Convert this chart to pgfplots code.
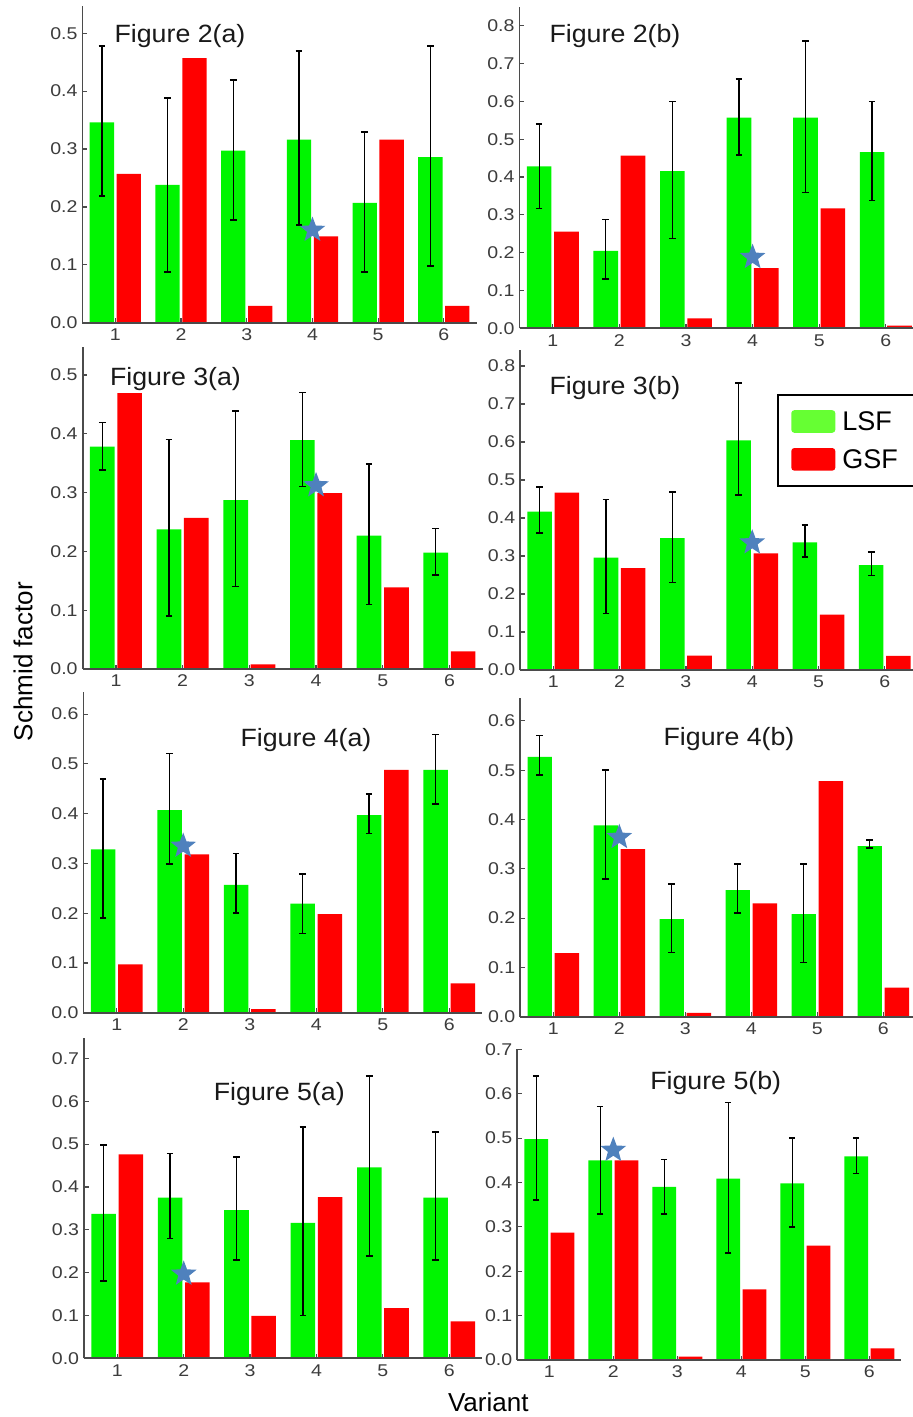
\documentclass[border=0pt]{standalone}
\usepackage{fontspec}
\setmainfont{Liberation Sans}
\newfontfamily\tickfont{Liberation Sans}[FakeStretch=1.15]
\newfontfamily\titlefont{Liberation Sans}[FakeStretch=1.07]
\usepackage{pgfplots}
\pgfplotsset{compat=1.18}
\definecolor{barg}{RGB}{0,245,0}
\definecolor{barr}{RGB}{255,0,0}
\definecolor{legg}{RGB}{102,255,51}
\definecolor{starblue}{RGB}{79,129,189}
\definecolor{axgray}{RGB}{75,75,75}
\definecolor{tickgray}{RGB}{60,60,60}
\pgfdeclareplotmark{fstar}{%
  \pgfpathmoveto{\pgfpointpolar{90}{\pgfplotmarksize}}%
  \pgfpathlineto{\pgfpointpolar{126}{0.42*\pgfplotmarksize}}%
  \pgfpathlineto{\pgfpointpolar{162}{\pgfplotmarksize}}%
  \pgfpathlineto{\pgfpointpolar{198}{0.42*\pgfplotmarksize}}%
  \pgfpathlineto{\pgfpointpolar{234}{\pgfplotmarksize}}%
  \pgfpathlineto{\pgfpointpolar{270}{0.42*\pgfplotmarksize}}%
  \pgfpathlineto{\pgfpointpolar{306}{\pgfplotmarksize}}%
  \pgfpathlineto{\pgfpointpolar{342}{0.42*\pgfplotmarksize}}%
  \pgfpathlineto{\pgfpointpolar{18}{\pgfplotmarksize}}%
  \pgfpathlineto{\pgfpointpolar{54}{0.42*\pgfplotmarksize}}%
  \pgfpathclose\pgfusepathqfill}
\pgfplotsset{
  panel/.style={
    scale only axis, anchor=south west,
    xmin=0.5, xmax=6.5, ymin=0,
    axis x line*=bottom, axis y line*=left,
    axis line style={axgray, line width=1.8pt},
    xtick={1,2,3,4,5,6},
    ytick={0,0.1,0.2,0.3,0.4,0.5,0.6,0.7,0.8},
    tick style={axgray, line width=1.2pt},
    major tick length=4.5pt,
    tick align=inside,
    /pgf/number format/assume math mode=true,
    ticklabel style={font=\tickfont\fontsize{17}{19}\selectfont, text=tickgray, inner sep=0pt, outer sep=0pt},
    yticklabel style={/pgf/number format/fixed, /pgf/number format/fixed zerofill, /pgf/number format/precision=1},
    xticklabel shift=6pt, yticklabel shift=5pt,
    axis on top, clip=false,
  },
  gbar/.style={ybar, bar width=0.37, bar shift=-0.205, fill=barg, draw=none, forget plot},
  rbar/.style={ybar, bar width=0.37, bar shift=0.205, fill=barr, draw=none, forget plot},
  errb/.style={forget plot, draw=none, mark=none,
    error bars/.cd, y dir=both, y explicit,
    error bar style={draw=black, line width=1.3pt},
    error mark options={rotate=90, draw=black, line width=1.6pt, mark size=3.3pt}},
  starm/.style={forget plot, only marks, mark=fstar, mark size=13.5pt, starblue},
}
\begin{document}
\begin{tikzpicture}
\useasboundingbox (0pt,0pt) rectangle (913pt,-1417pt);
\clip (0pt,0pt) rectangle (913pt,-1417pt);
\fill[white] (0pt,0pt) rectangle (913pt,-1417pt);

% ---------- Figure 2(a)
\begin{axis}[panel, at={(82.5pt,-322.7pt)}, width=394.2pt, height=316.7pt, ymax=0.547]
\addplot[gbar] coordinates {(1,0.346)(2,0.238)(3,0.297)(4,0.316)(5,0.207)(6,0.286)};
\addplot[rbar] coordinates {(1,0.257)(2,0.457)(3,0.029)(4,0.149)(5,0.316)(6,0.029)};
\addplot[errb] coordinates {
 (0.795,0.346) += (0,0.132) -= (0,0.127)
 (1.795,0.238) += (0,0.150) -= (0,0.150)
 (2.795,0.297) += (0,0.122) -= (0,0.120)
 (3.795,0.316) += (0,0.153) -= (0,0.147)
 (4.795,0.207) += (0,0.122) -= (0,0.119)
 (5.795,0.286) += (0,0.192) -= (0,0.188)};
\addplot[starm] coordinates {(4,0.16)};
\end{axis}

% ---------- Figure 2(b)
\begin{axis}[panel, at={(519.5pt,-328.3pt)}, width=399.6pt, height=321pt, ymax=0.849]
\addplot[gbar] coordinates {(1,0.428)(2,0.205)(3,0.416)(4,0.557)(5,0.557)(6,0.466)};
\addplot[rbar] coordinates {(1,0.256)(2,0.457)(3,0.026)(4,0.159)(5,0.317)(6,0.007)};
\addplot[errb] coordinates {
 (0.795,0.428) += (0,0.112) -= (0,0.111)
 (1.795,0.205) += (0,0.083) -= (0,0.075)
 (2.795,0.416) += (0,0.184) -= (0,0.178)
 (3.795,0.557) += (0,0.102) -= (0,0.098)
 (4.795,0.557) += (0,0.203) -= (0,0.198)
 (5.795,0.466) += (0,0.134) -= (0,0.128)};
\addplot[starm] coordinates {(4,0.188)};
\end{axis}

% ---------- Figure 3(a)
\begin{axis}[panel, at={(82.6pt,-669pt)}, width=400.2pt, height=321.7pt, ymax=0.547]
\addplot[gbar] coordinates {(1,0.378)(2,0.2375)(3,0.287)(4,0.389)(5,0.227)(6,0.198)};
\addplot[rbar] coordinates {(1,0.469)(2,0.257)(3,0.008)(4,0.299)(5,0.139)(6,0.030)};
\addplot[errb] coordinates {
 (0.795,0.378) += (0,0.041) -= (0,0.040)
 (1.795,0.2375) += (0,0.1525) -= (0,0.1475)
 (2.795,0.287) += (0,0.152) -= (0,0.147)
 (3.795,0.389) += (0,0.081) -= (0,0.079)
 (4.795,0.227) += (0,0.122) -= (0,0.117)
 (5.795,0.198) += (0,0.041) -= (0,0.038)};
\addplot[starm] coordinates {(4,0.312)};
\end{axis}

% ---------- Figure 3(b)
\begin{axis}[panel, at={(520.15pt,-670pt)}, width=397.8pt, height=320pt, ymax=0.842,
  legend style={at={(0.6457,0.8625)}, anchor=north west, draw=black, line width=1.6pt, fill=white,
    font=\fontsize{27}{30}\selectfont, inner xsep=13.5pt, inner ysep=14.5pt, row sep=13.5pt,
    nodes={inner sep=2pt, text=black}, cells={anchor=west}},
  legend image code/.code={\fill[#1, rounded corners=3pt] (0pt,-11.3pt) rectangle (44pt,11.3pt);
    \path (49pt,0pt);}]
\addplot[gbar] coordinates {(1,0.417)(2,0.296)(3,0.347)(4,0.604)(5,0.336)(6,0.276)};
\addplot[rbar] coordinates {(1,0.467)(2,0.268)(3,0.038)(4,0.307)(5,0.146)(6,0.037)};
\addplot[errb] coordinates {
 (0.795,0.417) += (0,0.065) -= (0,0.057)
 (1.795,0.296) += (0,0.153) -= (0,0.147)
 (2.795,0.347) += (0,0.122) -= (0,0.117)
 (3.795,0.604) += (0,0.151) -= (0,0.144)
 (4.795,0.336) += (0,0.045) -= (0,0.038)
 (5.795,0.276) += (0,0.034) -= (0,0.027)};
\addplot[starm] coordinates {(4,0.335)};
\addlegendimage{fill=legg, draw=none}
\addlegendentry{LSF}
\addlegendimage{fill=barr, draw=none}
\addlegendentry{GSF}
\end{axis}

% ---------- Figure 4(a)
\begin{axis}[panel, at={(83.45pt,-1012.7pt)}, width=399pt, height=321pt, ymax=0.645]
\addplot[gbar] coordinates {(1,0.328)(2,0.407)(3,0.257)(4,0.219)(5,0.397)(6,0.488)};
\addplot[rbar] coordinates {(1,0.097)(2,0.318)(3,0.007)(4,0.198)(5,0.488)(6,0.059)};
\addplot[errb] coordinates {
 (0.795,0.328) += (0,0.142) -= (0,0.138)
 (1.795,0.407) += (0,0.114) -= (0,0.108)
 (2.795,0.257) += (0,0.063) -= (0,0.057)
 (3.795,0.219) += (0,0.060) -= (0,0.060)
 (4.795,0.397) += (0,0.043) -= (0,0.037)
 (5.795,0.488) += (0,0.071) -= (0,0.069)};
\addplot[starm] coordinates {(2,0.335)};
\end{axis}

% ---------- Figure 4(b)
\begin{axis}[panel, at={(520.3pt,-1016.7pt)}, width=396pt, height=319pt, ymax=0.647]
\addplot[gbar] coordinates {(1,0.527)(2,0.388)(3,0.198)(4,0.257)(5,0.208)(6,0.346)};
\addplot[rbar] coordinates {(1,0.129)(2,0.340)(3,0.008)(4,0.230)(5,0.478)(6,0.059)};
\addplot[errb] coordinates {
 (0.795,0.527) += (0,0.043) -= (0,0.037)
 (1.795,0.388) += (0,0.112) -= (0,0.109)
 (2.795,0.198) += (0,0.071) -= (0,0.068)
 (3.795,0.257) += (0,0.053) -= (0,0.047)
 (4.795,0.208) += (0,0.102) -= (0,0.098)
 (5.795,0.346) += (0,0.013) -= (0,0.004)};
\addplot[starm] coordinates {(2,0.364)};
\end{axis}

% ---------- Figure 5(a)
\begin{axis}[panel, at={(84.1pt,-1358.3pt)}, width=398.4pt, height=320pt, ymax=0.747]
\addplot[gbar] coordinates {(1,0.337)(2,0.375)(3,0.346)(4,0.316)(5,0.446)(6,0.375)};
\addplot[rbar] coordinates {(1,0.476)(2,0.177)(3,0.099)(4,0.376)(5,0.117)(6,0.086)};
\addplot[errb] coordinates {
 (0.795,0.337) += (0,0.161) -= (0,0.157)
 (1.795,0.375) += (0,0.103) -= (0,0.095)
 (2.795,0.346) += (0,0.124) -= (0,0.117)
 (3.795,0.316) += (0,0.224) -= (0,0.216)
 (4.795,0.446) += (0,0.213) -= (0,0.207)
 (5.795,0.375) += (0,0.154) -= (0,0.146)};
\addplot[starm] coordinates {(2,0.197)};
\end{axis}

% ---------- Figure 5(b)
\begin{axis}[panel, at={(517.3pt,-1360pt)}, width=384pt, height=311.1pt, ymax=0.701]
\addplot[gbar] coordinates {(1,0.498)(2,0.450)(3,0.390)(4,0.409)(5,0.398)(6,0.459)};
\addplot[rbar] coordinates {(1,0.287)(2,0.450)(3,0.0075)(4,0.159)(5,0.258)(6,0.026)};
\addplot[errb] coordinates {
 (0.795,0.498) += (0,0.142) -= (0,0.138)
 (1.795,0.450) += (0,0.121) -= (0,0.121)
 (2.795,0.390) += (0,0.062) -= (0,0.061)
 (3.795,0.409) += (0,0.171) -= (0,0.168)
 (4.795,0.398) += (0,0.102) -= (0,0.098)
 (5.795,0.459) += (0,0.041) -= (0,0.039)};
\addplot[starm] coordinates {(2,0.473)};
\end{axis}

% ---------- titles and shared labels
\begin{scope}[every node/.style={anchor=base, text=black!90, font=\titlefont\fontsize{25}{30}\selectfont}]
\node at (180pt,-42.3pt) {Figure 2(a)};
\node at (615pt,-42.3pt) {Figure 2(b)};
\node at (175.5pt,-385.7pt) {Figure 3(a)};
\node at (615pt,-394.7pt) {Figure 3(b)};
\node at (306pt,-746.7pt) {Figure 4(a)};
\node at (729pt,-745.7pt) {Figure 4(b)};
\node at (279.3pt,-1100.7pt) {Figure 5(a)};
\node at (715.7pt,-1089.7pt) {Figure 5(b)};
\end{scope}
\node[rotate=90, anchor=center, font=\fontsize{26}{30}\selectfont] at (23pt,-661.7pt) {Schmid factor};
\node[anchor=base, font=\fontsize{26}{30}\selectfont] at (488.3pt,-1411.7pt) {Variant};
\end{tikzpicture}
\end{document}
